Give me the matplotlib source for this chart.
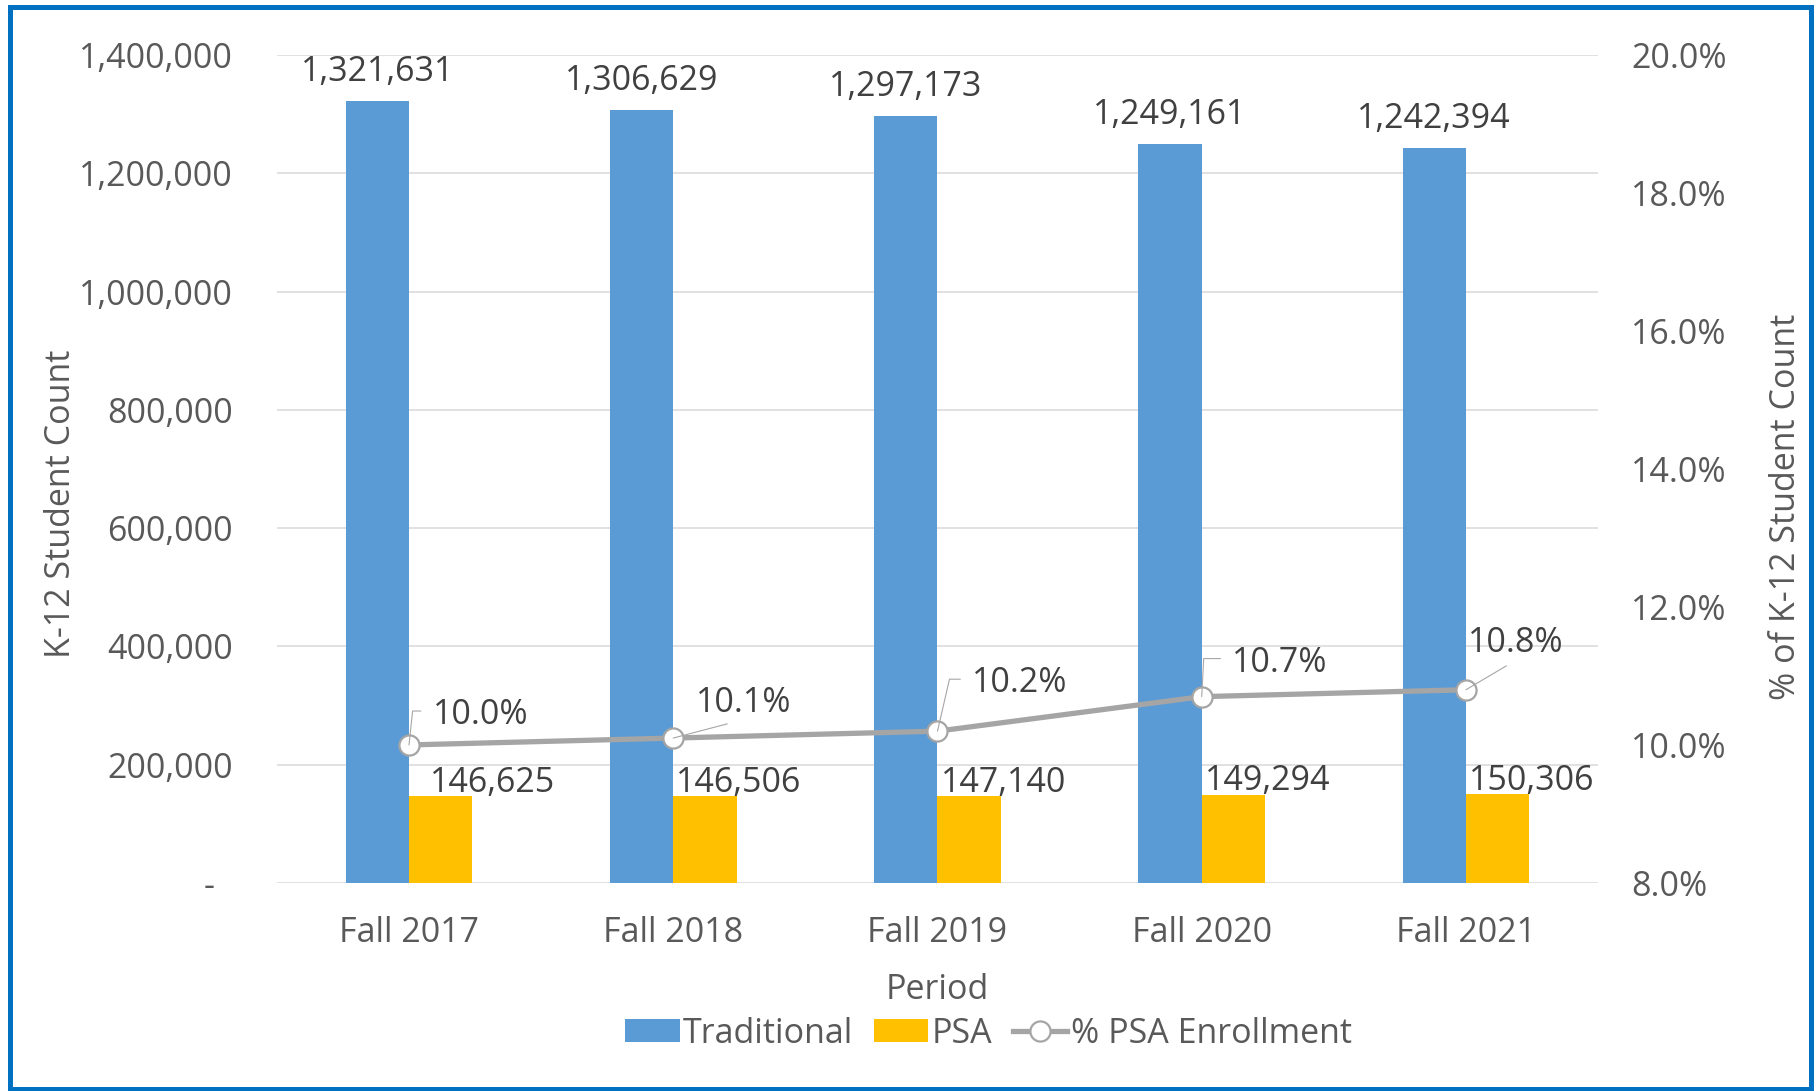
import numpy as np
import matplotlib
matplotlib.use('Agg')
import matplotlib.pyplot as plt
from matplotlib.lines import Line2D
from matplotlib.patches import Patch, Rectangle
from matplotlib.ticker import FuncFormatter

# data
periods = ['Fall 2017', 'Fall 2018', 'Fall 2019', 'Fall 2020', 'Fall 2021']
traditional = [1321631, 1306629, 1297173, 1249161, 1242394]
psa = [146625, 146506, 147140, 149294, 150306]
psa_pct = [10.0, 10.1, 10.2, 10.7, 10.8]

BLUE = '#5B9BD5'
GOLD = '#FFC000'
GREY = '#A5A5A5'
TICK = '#595959'
LABEL = '#404040'
FS = 24.5

plt.rcParams['font.family'] = ['Open Sans', 'DejaVu Sans']

fig = plt.figure(figsize=(18.17, 10.91), dpi=100)
ax = fig.add_axes([0.1524, 0.1907, 0.7271, 0.7589])
ax2 = ax.twinx()

x = np.arange(len(periods))
w = 0.24
ax.bar(x - w / 2, traditional, w, color=BLUE, zorder=2)
ax.bar(x + w / 2, psa, w, color=GOLD, zorder=2)

# bar labels
for i, v in enumerate(traditional):
    ax.annotate(f'{v:,}', (x[i] - w / 2, v), xytext=(0, 14.4), textcoords='offset points',
                ha='center', va='baseline', fontsize=FS, color=LABEL)
psa_nudge = [37, 24.5, 24.5, 24.5, 24.5]  # labels sit right of the bars in the original
for i, v in enumerate(psa):
    ax.annotate(f'{v:,}', (x[i] + w / 2, v), xytext=(psa_nudge[i], 3.0), textcoords='offset points',
                ha='center', va='baseline', fontsize=FS, color=LABEL)

ax.set_xlim(-0.5, 4.5)
ax.set_ylim(0, 1400000)
ax.set_yticks(range(0, 1400001, 200000))
ax.yaxis.set_major_formatter(FuncFormatter(lambda v, _: f'{int(v):,}' if v else '-  '))
ax.set_xticks(x, periods)
ax.grid(axis='y', color='#D9D9D9', lw=1.1, zorder=0)
ax.set_axisbelow(True)
ax.tick_params(axis='y', length=0, labelsize=FS, labelcolor=TICK, pad=31.5)
ax.tick_params(axis='x', length=0, labelsize=FS, labelcolor=TICK, pad=24)
for s in ax.spines.values():
    s.set_visible(False)

# percentage line on right axis
ax2.plot(x, psa_pct, color=GREY, lw=3.8, marker='o', ms=14.5, mfc='white', mec=GREY, mew=1.6,
         zorder=3, solid_capstyle='round')
ax2.set_ylim(8, 20)
ax2.set_yticks(np.arange(8, 20.1, 2))
ax2.yaxis.set_major_formatter(FuncFormatter(lambda v, _: f'{v:.1f}%'))
ax2.tick_params(axis='y', length=0, labelsize=FS, labelcolor=TICK, pad=24)
for s in ax2.spines.values():
    s.set_visible(False)

pct_offsets = [(17, 15), (16, 19), (25, 28), (22, 18), (1.5, 27)]
leaders = ['angle,angleA=0,angleB=84,rad=0', 'arc3', 'angle,angleA=0,angleB=77,rad=0',
           'angle,angleA=0,angleB=87,rad=0', 'arc3']
for i, v in enumerate(psa_pct):
    elbow = leaders[i].startswith('angle')
    ax2.annotate(f'{v:.1f}%', (x[i], v), xytext=pct_offsets[i], textcoords='offset points',
                 ha='left', va='baseline', fontsize=FS, color=LABEL, zorder=4,
                 arrowprops=dict(arrowstyle='-', color='#A6A6A6', lw=0.8,
                                 connectionstyle=leaders[i],
                                 relpos=(0, 0.62) if elbow else (0.5, 0),
                                 shrinkA=6.5 if elbow else 4, shrinkB=0))

# axis titles
fig.text(61 / 1817, 1 - 504 / 1091, 'K-12 Student Count', rotation=90, ha='center', va='center',
         fontsize=FS, color=TICK)
fig.text(1786 / 1817, 1 - 507 / 1091, '% of K-12 Student Count', rotation=90, ha='center',
         va='center', fontsize=FS, color=TICK)
fig.text(937 / 1817, 1 - 999 / 1091, 'Period', ha='center', va='baseline', fontsize=FS, color=TICK)

handles = [Patch(facecolor=BLUE), Patch(facecolor=GOLD),
           Line2D([], [], color=GREY, lw=3.8, marker='o', ms=14.5, mfc='white', mec=GREY, mew=1.6)]
fig.legend(handles, ['Traditional', 'PSA', '% PSA Enrollment'], loc='center',
           bbox_to_anchor=(0.544, 0.0526), ncol=3, frameon=False, fontsize=FS,
           handlelength=1.6, handleheight=0.65, handletextpad=0.1, columnspacing=0.6,
           labelcolor=TICK)

# blue frame around the chart
fig.patches.append(Rectangle((9.5 / 1817, 2 / 1091), 1801 / 1817, (1089 - 6.5) / 1091,
                             transform=fig.transFigure, fill=False, edgecolor='#0070C0', lw=3.6))

fig.savefig('out.png', dpi=100)
